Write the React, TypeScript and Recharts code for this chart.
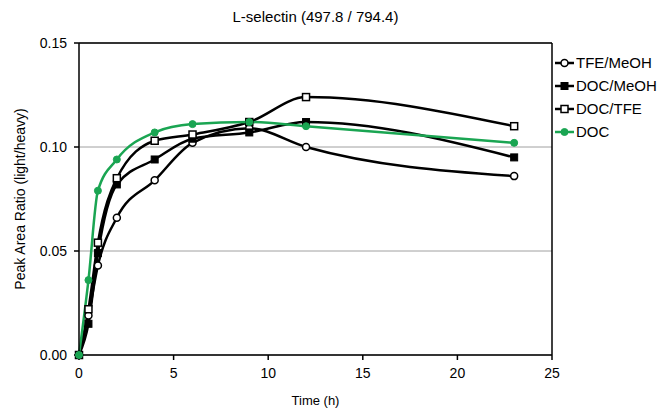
import React from "react";
import {
  LineChart,
  Line,
  XAxis,
  YAxis,
  CartesianGrid,
  Legend,
  Label,
  ReferenceLine,
} from "recharts";

// sampling times (h)
const times = [0, 0.5, 1, 2, 4, 6, 9, 12, 23];

const tfeMeoh = [0, 0.019, 0.043, 0.066, 0.084, 0.102, 0.109, 0.1, 0.086];
const docMeoh = [0, 0.015, 0.049, 0.082, 0.094, 0.104, 0.107, 0.112, 0.095];
const docTfe = [0, 0.022, 0.054, 0.085, 0.103, 0.106, 0.112, 0.124, 0.11];
const doc = [0, 0.036, 0.079, 0.094, 0.107, 0.111, 0.112, 0.11, 0.102];

const xTicks = [0, 5, 10, 15, 20, 25];
const yTicks = [0, 0.05, 0.1, 0.15];

const GREEN = "#1aa552";
const FONT = "'Liberation Sans', Arial, sans-serif";

type Marker = "openCircle" | "filledSquare" | "openSquare" | "greenCircle";

const series: { key: string; name: string; values: number[]; color: string; marker: Marker }[] = [
  { key: "tfeMeoh", name: "TFE/MeOH", values: tfeMeoh, color: "#000", marker: "openCircle" },
  { key: "docMeoh", name: "DOC/MeOH", values: docMeoh, color: "#000", marker: "filledSquare" },
  { key: "docTfe", name: "DOC/TFE", values: docTfe, color: "#000", marker: "openSquare" },
  { key: "doc", name: "DOC", values: doc, color: GREEN, marker: "greenCircle" },
];

const data = times.map((t, i) => {
  const row: Record<string, number> = { time: t };
  series.forEach((s) => (row[s.key] = s.values[i]));
  return row;
});

const drawMarker = (m: Marker, cx: number, cy: number, key?: React.Key) => {
  switch (m) {
    case "openCircle":
      return <circle key={key} cx={cx} cy={cy} r={3.5} fill="#fff" stroke="#000" strokeWidth={1.5} />;
    case "filledSquare":
      return <rect key={key} x={cx - 3.5} y={cy - 3.5} width={7} height={7} fill="#000" stroke="#000" strokeWidth={1} />;
    case "openSquare":
      return <rect key={key} x={cx - 3.5} y={cy - 3.5} width={7} height={7} fill="#fff" stroke="#000" strokeWidth={1.5} />;
    default:
      return <circle key={key} cx={cx} cy={cy} r={3.5} fill={GREEN} stroke={GREEN} strokeWidth={1} />;
  }
};

const LegendContent = () => (
  <div style={{ fontFamily: FONT, fontSize: 15, color: "#000" }}>
    {series.map((s) => (
      <div key={s.key} style={{ display: "flex", alignItems: "center", height: 23 }}>
        <svg width={20} height={12} style={{ marginRight: 1 }}>
          <line x1={0} y1={6} x2={19} y2={6} stroke={s.color} strokeWidth={2.5} />
          {drawMarker(s.marker, 9.5, 6)}
        </svg>
        <span>{s.name}</span>
      </div>
    ))}
  </div>
);

const App: React.FC = () => {
  return (
    <div style={{ position: "relative", width: 660, height: 402, fontFamily: FONT }}>
      <div
        style={{
          position: "absolute",
          top: 0,
          left: 71,
          width: 473,
          textAlign: "center",
          fontSize: 15,
          lineHeight: "18px",
          color: "#000",
        }}
      >
        L-selectin (497.8 / 794.4)
      </div>
      <LineChart width={660} height={402} data={data} margin={{ top: 35, right: 116, bottom: 5, left: 12 }}>
        <CartesianGrid vertical={false} stroke="#a0a0a0" strokeWidth={1} />
        <ReferenceLine y={0.15} stroke="#000" strokeWidth={1.5} />
        <ReferenceLine x={25} stroke="#000" strokeWidth={1.5} />
        <XAxis
          dataKey="time"
          type="number"
          domain={[0, 25]}
          ticks={xTicks}
          height={50}
          stroke="#000"
          strokeWidth={1.5}
          tickSize={5}
          tickMargin={8}
          tick={{ fill: "#000", fontSize: 14, fontFamily: FONT }}
        >
          <Label
            value="Time (h)"
            position="insideBottom"
            offset={0}
            style={{ fill: "#000", fontSize: 13, fontFamily: FONT }}
          />
        </XAxis>
        <YAxis
          type="number"
          domain={[0, 0.15]}
          ticks={yTicks}
          width={59}
          stroke="#000"
          strokeWidth={1.5}
          tickSize={5}
          tickMargin={7}
          tickFormatter={(v: number) => v.toFixed(2)}
          tick={{ fill: "#000", fontSize: 14, fontFamily: FONT }}
        >
          <Label
            value="Peak Area Ratio (light/heavy)"
            position="insideLeft"
            angle={-90}
            offset={0}
            style={{ fill: "#000", fontSize: 14, fontFamily: FONT, textAnchor: "middle" }}
          />
        </YAxis>
        <Legend
          layout="vertical"
          align="center"
          verticalAlign="middle"
          wrapperStyle={{ top: 43, left: 547, width: 113 }}
          content={<LegendContent />}
        />
        {series.map((s) => (
          <Line
            key={s.key}
            type="monotone"
            dataKey={s.key}
            name={s.name}
            stroke={s.color}
            strokeWidth={2.5}
            dot={(p: any) => drawMarker(s.marker, p.cx, p.cy, `${s.key}-${p.index}`)}
            activeDot={false}
            isAnimationActive={false}
          />
        ))}
      </LineChart>
    </div>
  );
};

export default App;
